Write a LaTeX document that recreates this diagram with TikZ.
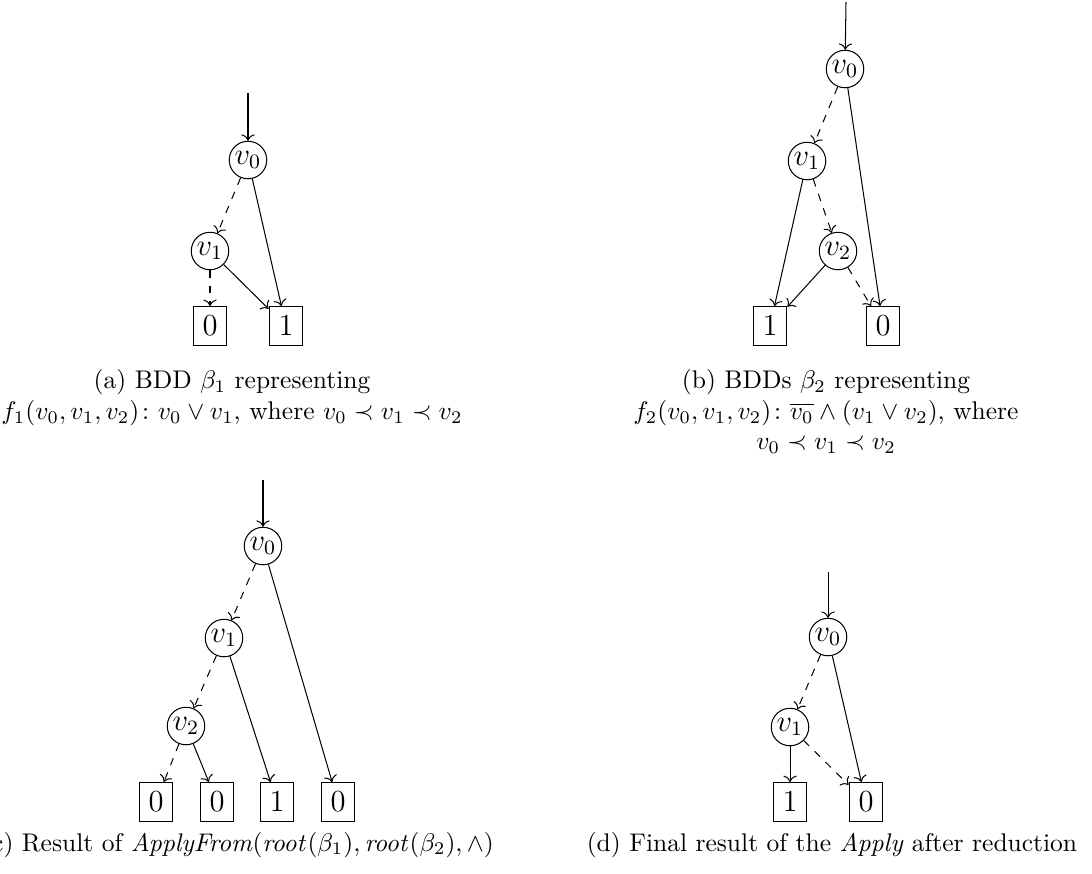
\documentclass[tikz,border=0pt]{standalone}
\usepackage{amsmath}
\usepackage{amssymb}
\usepackage{tikz}
\usetikzlibrary{arrows.meta}

\begin{document}
\begin{tikzpicture}[>=To, x=0.392pt, y=-0.392pt,
    nodo/.style={circle, draw, inner sep=0pt, minimum size=14.7pt, font=\large},
    hoja/.style={rectangle, draw, inner sep=0pt, minimum width=13.3pt, minimum height=15.3pt, font=\large},
    bajo/.style={->, dashed},
    alto/.style={->},
    leyenda/.style={align=center, inner sep=0pt}]

\useasboundingbox (0,0) rectangle (1092,873);

% (a)
\coordinate (ra) at (248,93);
\node[nodo] (a0) at (248,160) {$v_0$};
\node[nodo] (a1) at (210,251) {$v_1$};
\node[hoja] (aF) at (210,326) {$0$};
\node[hoja] (aT) at (286,326) {$1$};
\draw[->] (ra) -- (a0);
\foreach \i/\j in {a0/a1, a1/aF}
    \draw[bajo] (\i) -- (\j);
\foreach \i/\j in {a0/aT, a1/aT}
    \draw[alto] (\i) -- (\j);
\node[leyenda, anchor=north] (capa) at (232,369)
    {(a) BDD $\beta_1$ representing\\
     $f_1(v_0, v_1, v_2)\colon v_0 \vee v_1$, where $v_0 \prec v_1 \prec v_2$};

% (b)
\coordinate (rb) at (846,2);
\node[nodo] (b0) at (845,69) {$v_0$};
\node[nodo] (b1) at (807,161) {$v_1$};
\node[nodo] (b2) at (838,251) {$v_2$};
\node[hoja] (bT) at (770,326) {$1$};
\node[hoja] (bF) at (883,326) {$0$};
\draw[->] (rb) -- (b0);
\foreach \i/\j in {b0/b1, b1/b2, b2/bF}
    \draw[bajo] (\i) -- (\j);
\foreach \i/\j in {b0/bF, b1/bT, b2/bT}
    \draw[alto] (\i) -- (\j);
\node[leyenda, anchor=north] (capb) at (826,369)
    {(b) BDDs $\beta_2$ representing\\
     $f_2(v_0, v_1, v_2)\colon \overline{v_0} \wedge (v_1 \vee v_2)$, where\\
     $v_0 \prec v_1 \prec v_2$};

% (c)
\coordinate (rc) at (263,480);
\node[nodo] (c0) at (263,546) {$v_0$};
\node[nodo] (c1) at (224,638) {$v_1$};
\node[nodo] (c2) at (186,726) {$v_2$};
\node[hoja] (cA) at (156,802) {$0$};
\node[hoja] (cB) at (217,802) {$0$};
\node[hoja] (cC) at (277,802) {$1$};
\node[hoja] (cD) at (338,802) {$0$};
\draw[->] (rc) -- (c0);
\foreach \i/\j in {c0/c1, c1/c2, c2/cA}
    \draw[bajo] (\i) -- (\j);
\foreach \i/\j in {c0/cD, c1/cC, c2/cB}
    \draw[alto] (\i) -- (\j);
\node[leyenda, anchor=base] (capc) at (238,851)
    {(c) Result of \textit{ApplyFrom}$(\mathit{root}(\beta_1), \mathit{root}(\beta_2), \wedge)$};

% (d)
\coordinate (rd) at (828,572);
\node[nodo] (d0) at (828,637) {$v_0$};
\node[nodo] (d1) at (790,727) {$v_1$};
\node[hoja] (dT) at (790,802) {$1$};
\node[hoja] (dF) at (866,802) {$0$};
\draw[->] (rd) -- (d0);
\foreach \i/\j in {d0/d1, d1/dF}
    \draw[bajo] (\i) -- (\j);
\foreach \i/\j in {d0/dF, d1/dT}
    \draw[alto] (\i) -- (\j);
\node[leyenda, anchor=base] (capd) at (832,851)
    {(d) Final result of the \textit{Apply} after reduction};

\end{tikzpicture}
\end{document}
